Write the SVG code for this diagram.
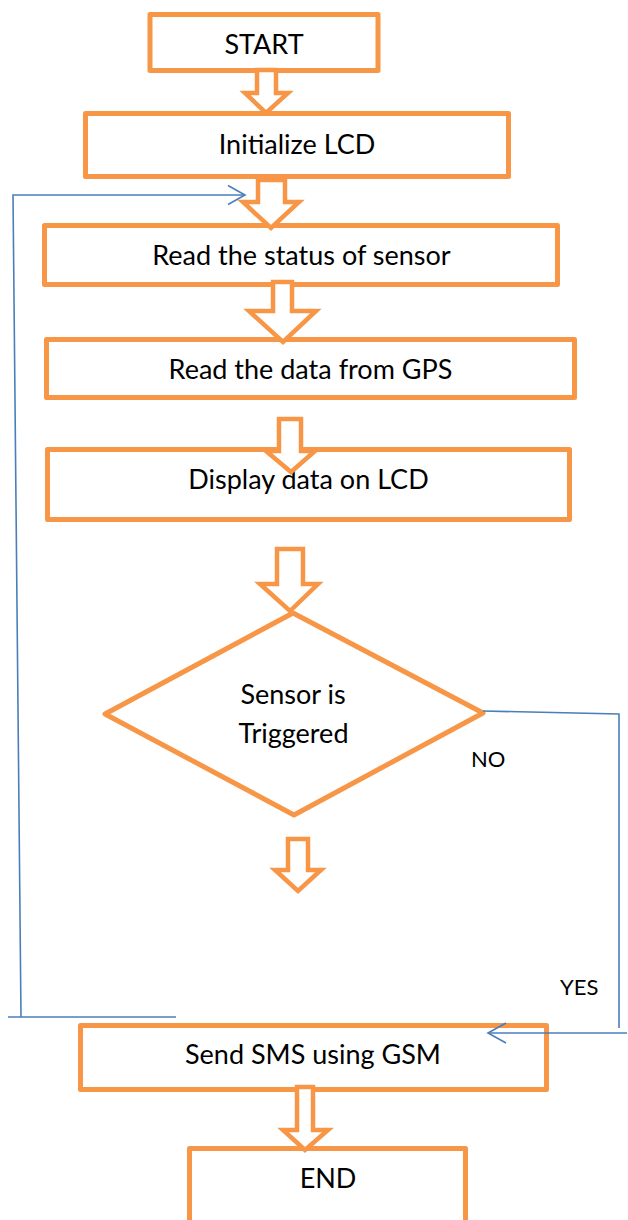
<svg xmlns="http://www.w3.org/2000/svg" width="628" height="1220" viewBox="0 0 628 1220">
<style>
.box{fill:#fff;stroke:#F79646;stroke-width:5;stroke-linejoin:round}
.arr{fill:#fff;stroke:#F79646;stroke-width:4.5;stroke-linejoin:miter}
.t{font-family:Lato,"Open Sans",sans-serif;font-size:27px;fill:#000;text-anchor:middle}
.lbl{font-family:Lato,"Open Sans",sans-serif;font-size:22px;fill:#000}
.ln{fill:none;stroke:#4A7EBB;stroke-width:1.6}
</style>
<rect width="628" height="1220" fill="#fff"/>
<g id="start"><rect class="box" x="150" y="14.5" width="228" height="56"/><text class="t" x="264" y="54">START</text></g>
<g id="init"><rect class="box" x="85.5" y="113.5" width="423" height="63"/><text class="t" x="297" y="154">Initialize LCD</text></g>
<g id="sensor"><rect class="box" x="44.5" y="225.5" width="513" height="59"/><text class="t" x="301.5" y="265">Read the status of sensor</text></g>
<g id="gps"><rect class="box" x="46.5" y="339.5" width="528" height="58"/><text class="t" x="310.5" y="379">Read the data from GPS</text></g>
<g id="display"><rect class="box" x="47.5" y="449.5" width="522" height="70"/><text class="t" x="308.5" y="489">Display data on LCD</text></g>
<g id="decision"><polygon class="box" points="293,613 483,713 294,815 105,714"/><text class="t" x="293" y="704">Sensor is</text><text class="t" x="293.5" y="743">Triggered</text></g>
<g id="sms"><rect class="box" x="80.5" y="1025.5" width="466" height="64"/><text class="t" x="313" y="1064">Send SMS using GSM</text></g>
<g id="end"><rect class="box" x="189.5" y="1148.5" width="276" height="100"/><text class="t" x="328" y="1188">END</text></g>
<g id="connectors">
<polygon class="arr" points="257,70 276,70 276,93 288,93 266,113 245,93 257,93"/>
<polygon class="arr" points="258,180 285,180 285,202 299,202 271,228 243,202 258,202"/>
<polygon class="arr" points="273,282 292,282 292,311 316,311 283,342 249,311 273,311"/>
<polygon class="arr" points="279,419 301,419 301,451 315,451 291,472 266,451 279,451"/>
<polygon class="arr" points="277,549 303,549 303,584 318,584 290,611 260,584 277,584"/>
<polygon class="arr" points="288,839 308,839 308,870 321,870 298,891 275,870 288,870"/>
<polygon class="arr" points="297,1087 313,1087 313,1130 328,1130 305,1150 283,1130 297,1130"/>
<path class="ln" d="M21 1017 L13 195 L245 195"/>
<path class="ln" d="M228 185.5 L245 195 L228 204.5"/>
<path class="ln" d="M8 1017 L176 1017"/>
<path class="ln" d="M483 711 L619 714 L619 1028"/>
<path class="ln" d="M627 1033 L488 1033"/>
<path class="ln" d="M506 1023 L488 1033 L506 1043"/>
<text class="lbl" x="471" y="767">NO</text>
<text class="lbl" x="560" y="995">YES</text>
</g>
</svg>
